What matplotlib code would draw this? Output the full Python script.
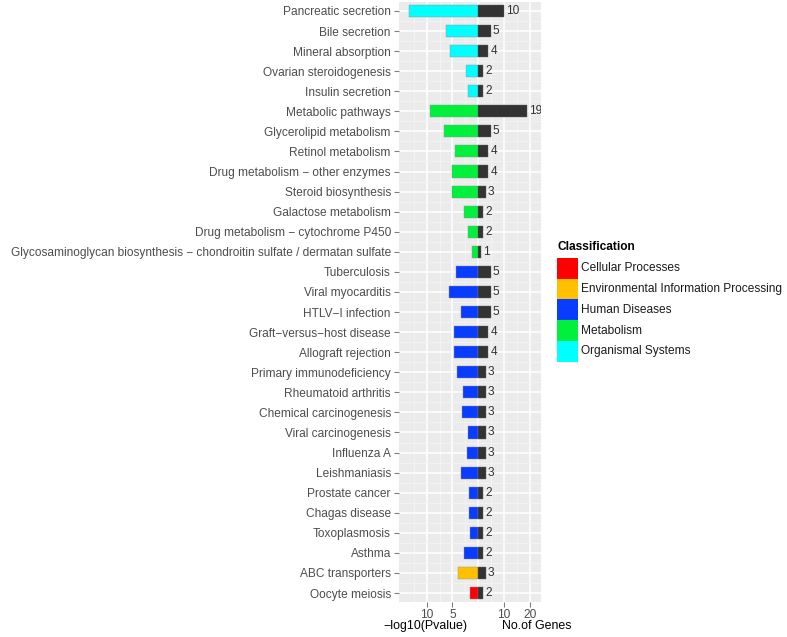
import matplotlib
matplotlib.use('Agg')
import matplotlib.pyplot as plt
from matplotlib.patches import Rectangle

plt.rcParams['font.family'] = ['Liberation Sans', 'DejaVu Sans']

pathways = ['Pancreatic secretion', 'Bile secretion', 'Mineral absorption',
            'Ovarian steroidogenesis', 'Insulin secretion', 'Metabolic pathways',
            'Glycerolipid metabolism', 'Retinol metabolism',
            'Drug metabolism \u2212 other enzymes', 'Steroid biosynthesis',
            'Galactose metabolism', 'Drug metabolism \u2212 cytochrome P450',
            'Glycosaminoglycan biosynthesis \u2212 chondroitin sulfate / dermatan sulfate',
            'Tuberculosis', 'Viral myocarditis', 'HTLV\u2212I infection',
            'Graft\u2212versus\u2212host disease', 'Allograft rejection',
            'Primary immunodeficiency', 'Rheumatoid arthritis',
            'Chemical carcinogenesis', 'Viral carcinogenesis', 'Influenza A',
            'Leishmaniasis', 'Prostate cancer', 'Chagas disease', 'Toxoplasmosis',
            'Asthma', 'ABC transporters', 'Oocyte meiosis']
classes = ['Organismal Systems'] * 5 + ['Metabolism'] * 8 + ['Human Diseases'] * 15 + \
          ['Environmental Information Processing', 'Cellular Processes']
neglog_p = [13.5, 6.3, 5.5, 2.4, 2.0, 9.4, 6.7, 4.5, 5.1, 5.1, 2.7, 2.0, 1.3,
            4.3, 5.6, 3.3, 4.7, 4.7, 4.2, 3.0, 3.1, 1.9, 2.2, 3.3, 1.8, 1.7, 1.5,
            2.7, 3.9, 1.6]
genes = [10, 5, 4, 2, 2, 19, 5, 4, 4, 3, 2, 2, 1, 5, 5, 5, 4, 4, 3, 3, 3, 3, 3, 3,
         2, 2, 2, 2, 3, 2]

class_names = ['Cellular Processes', 'Environmental Information Processing',
               'Human Diseases', 'Metabolism', 'Organismal Systems']
class_colors = ['#FF0000', '#FFC000', '#0A3CFF', '#00F03C', '#00FFFF']
cmap = dict(zip(class_names, class_colors))

fs = 8.6

fig = plt.figure(figsize=(7.87, 6.37), dpi=100)
ax = fig.add_axes([398.5 / 787, 1 - 601.7 / 637, 142.2 / 787, 599.4 / 637])
ax.set_facecolor('#EBEBEB')

ypos = list(range(len(pathways)))
scale = 2.0  # -log10 p drawn at twice the gene scale
ax.barh(ypos, [-scale * v for v in neglog_p], height=0.6,
        color=[cmap[c] for c in classes], edgecolor='#9090a0', linewidth=0.3, zorder=3)
ax.barh(ypos, genes, height=0.6, color='#333333', edgecolor='#666666',
        linewidth=0.3, zorder=3)
for y, g in zip(ypos, genes):
    ax.text(g + 0.7, y, str(g), va='center', ha='left', fontsize=fs,
            color='#333333', zorder=4, clip_on=True)

ax.set_xlim(-31.0, 24.3)
ax.set_ylim(len(pathways) - 1 + 0.43, -0.43)

# grid
for x in [-20, -10, 0, 10, 20]:
    ax.axvline(x, color='white', lw=1.1, zorder=1)
for x in [-25, -15, -5, 5, 15]:
    ax.axvline(x, color='#F4F4F4', lw=0.6, zorder=1)
for y in ypos:
    ax.axhline(y, color='white', lw=1.1, zorder=1)
for y in ypos[:-1]:
    ax.axhline(y + 0.5, color='#F4F4F4', lw=0.6, zorder=1)

ax.set_xticks([-20, -10, 10, 20])
ax.set_xticklabels(['10', '5', '10', '20'])
ax.set_yticks(ypos)
ax.set_yticklabels(pathways)
ax.tick_params(axis='both', length=3.5, width=0.8, color='#7F7F7F',
               labelsize=fs, labelcolor='#4D4D4D', pad=2)
for s in ax.spines.values():
    s.set_visible(False)

fig.text(425 / 787, 1 - 626 / 637, '\u2212log10(Pvalue)', ha='center', va='center',
         fontsize=8.9, color='black')
fig.text(537 / 787, 1 - 626 / 637, 'No.of Genes', ha='center', va='center',
         fontsize=8.9, color='black')

# legend
fig.text(557 / 787, 1 - 247 / 637, 'Classification', ha='left', va='center',
         fontsize=fs, fontweight='bold')
box_h = 20.8
for i, (name, col) in enumerate(zip(class_names, class_colors)):
    top = 257.7 + i * box_h
    fig.patches.append(Rectangle((557 / 787, 1 - (top + box_h) / 637), 21 / 787, box_h / 637,
                                 transform=fig.transFigure, facecolor=col,
                                 edgecolor='none'))
    fig.text(581 / 787, 1 - (top + box_h / 2) / 637, name, ha='left', va='center',
             fontsize=fs, color='#1A1A1A')

fig.savefig('out.png', dpi=100)
